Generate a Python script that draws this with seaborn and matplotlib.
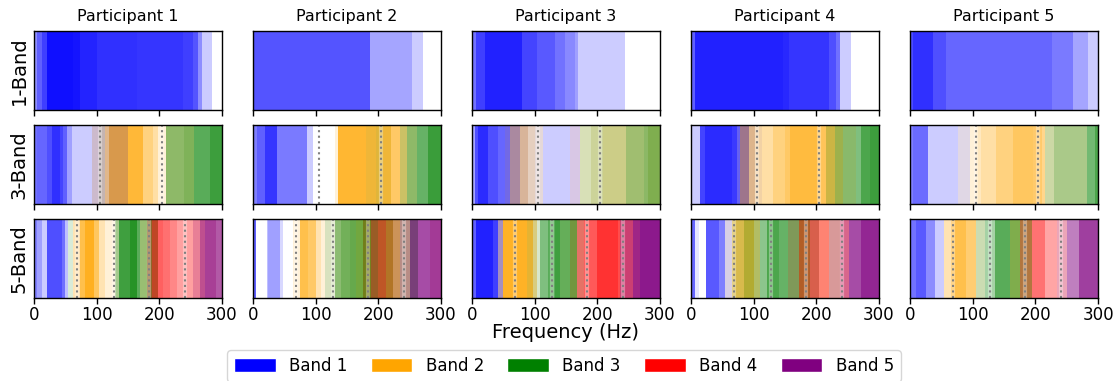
import numpy as np
import matplotlib
matplotlib.use("Agg")
import matplotlib.pyplot as plt
from matplotlib.colors import to_rgb
from matplotlib.patches import Patch
import seaborn as sns

# Band colours and labels
band_names = ["Band 1", "Band 2", "Band 3", "Band 4", "Band 5"]
band_colors = ["blue", "orange", "green", "red", "purple"]

participants = ["Participant 1", "Participant 2", "Participant 3", "Participant 4", "Participant 5"]
row_labels = ["1-Band", "3-Band", "5-Band"]

# Band boundaries (Hz) for the multi-band conditions
edges_3band = [106, 204]
edges_5band = [69, 127, 184, 241]

# Each segment: (start frequency in Hz, {band number: weight}); remainder is white
one_p1 = [(0, {1: .44}), (5, {1: .62}), (12, {1: .75}), (20, {1: .94}), (63, {1: .92}), (73, {1: .86}),
          (100, {1: .81}), (164, {1: .79}), (238, {1: .75}), (254, {1: .67}), (262, {1: .44}),
          (268, {1: .2}), (284, {})]
one_p2 = [(0, {1: .67}), (187, {1: .35}), (253, {1: .2}), (272, {})]
one_p3 = [(0, {1: .55}), (7, {1: .75}), (20, {1: .87}), (79, {1: .73}), (103, {1: .65}), (133, {1: .55}),
          (148, {1: .46}), (164, {1: .37}), (169, {1: .2}), (244, {})]
one_p4 = [(0, {1: .62}), (6, {1: .87}), (147, {1: .84}), (157, {1: .79}), (221, {1: .69}), (232, {1: .56}),
          (237, {1: .2}), (256, {})]
one_p5 = [(0, {1: .7}), (5, {1: .81}), (37, {1: .69}), (58, {1: .6}), (226, {1: .52}), (260, {1: .35}),
          (284, {1: .2})]

three_p1 = [(0, {1: .56}), (5, {1: .6}), (20, {1: .69}), (28, {1: .81}), (41, {1: .73}), (47, {1: .62}),
            (52, {1: .37}), (60, {1: .2}), (92, {1: .2, 2: .2}), (103, {1: .18, 2: .25, 3: .05}),
            (113, {1: .12, 2: .45}), (119, {1: .15, 2: .7}), (150, {2: .78}), (174, {2: .5}), (190, {2: .35}),
            (198, {2: .15}), (210, {2: .15, 3: .44}), (239, {2: .15, 3: .5}), (255, {3: .65}), (281, {3: .76})]
three_p2 = [(0, {1: .5}), (6, {1: .62}), (19, {1: .79}), (38, {1: .52}), (86, {1: .2}), (96, {}),
            (131, {2: .15}), (136, {2: .8}), (181, {2: .72, 3: .06}), (197, {2: .65, 3: .12}),
            (208, {2: .72, 3: .06}), (221, {2: .6}), (234, {2: .4, 3: .2}), (245, {2: .15, 3: .44}),
            (261, {3: .6}), (280, {3: .77})]
three_p3 = [(0, {1: .35}), (4, {1: .69}), (10, {1: .83}), (25, {1: .69}), (41, {1: .6}), (52, {1: .55, 2: .1}),
            (60, {1: .33, 2: .37}), (76, {1: .15, 2: .4}), (89, {1: .1, 2: .25}), (100, {1: .1, 2: .15}),
            (113, {1: .2}), (156, {1: .15, 2: .05, 4: .05}), (172, {2: .13, 3: .15}), (190, {2: .2, 3: .2}),
            (209, {2: .27, 3: .2}), (246, {2: .19, 3: .37}), (275, {2: .15, 3: .45}), (281, {2: .19, 3: .5})]
three_p4 = [(0, {1: .2}), (14, {1: .73}), (22, {1: .83}), (65, {1: .77}), (73, {1: .6, 2: .05}),
            (78, {1: .38, 2: .45}), (92, {1: .13, 2: .45}), (102, {1: .05, 2: .35}), (113, {2: .35}),
            (131, {2: .5}), (150, {2: .6}), (158, {2: .75}), (203, {2: .65}), (216, {2: .53, 3: .2}),
            (230, {2: .32, 3: .38}), (243, {2: .12, 3: .46}), (264, {3: .5}), (272, {3: .7}), (286, {3: .76})]
three_p5 = [(0, {1: .5}), (5, {1: .58}), (29, {1: .2}), (77, {1: .12, 2: .1}), (96, {2: .15}), (106, {2: .25}),
            (114, {2: .35}), (138, {2: .5}), (165, {2: .62}), (197, {2: .58}), (210, {2: .45}),
            (215, {2: .15, 3: .2}), (229, {2: .13, 3: .33}), (282, {3: .55}), (295, {3: .7})]

five_p1 = [(0, {1: .5}), (5, {1: .37}), (12, {1: .2}), (20, {1: .69}), (44, {1: .56}), (49, {1: .25}),
           (55, {3: .15}), (63, {2: .3}), (73, {2: .7}), (81, {2: .87}), (95, {2: .62}), (103, {2: .3}),
           (113, {2: .15}), (129, {2: .1, 3: .35}), (135, {3: .75}), (153, {3: .85}), (164, {3: .65}),
           (169, {2: .15, 3: .4}), (180, {1: .1, 2: .25, 3: .35, 4: .25}), (188, {3: .25, 4: .6}),
           (193, {4: .6, 3: .25}), (198, {4: .62}), (206, {4: .56}), (217, {4: .47}), (228, {4: .37}),
           (254, {4: .32, 5: .18}), (265, {4: .19, 5: .5}), (273, {4: .07, 5: .68}), (291, {4: .05, 5: .6})]
five_p2 = [(0, {1: .62}), (5, {}), (22, {1: .25}), (24, {1: .37}), (43, {1: .15}), (48, {}), (64, {2: .15}),
           (75, {2: .7}), (88, {2: .6}), (101, {2: .3}), (108, {2: .15}), (115, {2: .1, 3: .15}),
           (131, {2: .1, 3: .45}), (141, {2: .1, 3: .55}), (155, {2: .1, 3: .6}), (165, {2: .2, 3: .55}),
           (176, {1: .05, 2: .3, 3: .5, 4: .1}), (189, {1: .1, 2: .25, 3: .3, 4: .3}), (200, {2: .1, 3: .25, 4: .5}),
           (213, {2: .25, 3: .3, 4: .3}), (224, {2: .2, 3: .2, 4: .25}), (235, {3: .2, 4: .2, 5: .15}),
           (251, {1: .05, 3: .2, 4: .05, 5: .55}), (264, {5: .7}), (282, {5: .72, 4: .05})]
five_p3 = [(0, {1: .62}), (7, {1: .87}), (34, {1: .75}), (42, {1: .35, 2: .25}), (50, {2: .85}),
           (87, {2: .7, 3: .1}), (98, {2: .35, 3: .15}), (103, {3: .15, 2: .05}), (108, {3: .5}), (122, {3: .65}),
           (132, {3: .75}), (140, {3: .6, 2: .05}), (156, {3: .55, 2: .1, 4: .1}), (167, {4: .5, 3: .1}),
           (178, {4: .65}), (199, {4: .8}), (233, {4: .7}), (236, {4: .35, 5: .4}), (257, {5: .75, 4: .1}),
           (268, {5: .9})]
five_p4 = [(0, {1: .6}), (6, {1: .1}), (13, {}), (24, {1: .65}), (45, {1: .5}), (55, {1: .15, 2: .1}),
           (65, {2: .55, 3: .15}), (85, {2: .5, 3: .3}), (100, {2: .3, 3: .3}), (110, {3: .45}), (122, {3: .7}),
           (140, {3: .6}), (155, {3: .5, 4: .15}), (172, {3: .3, 4: .45, 2: .1}), (190, {4: .55, 3: .15}),
           (205, {4: .45, 2: .1}), (220, {4: .25, 3: .1, 5: .1}), (238, {4: .3, 5: .3}), (252, {5: .7}),
           (272, {5: .85})]
five_p5 = [(0, {1: .55}), (10, {1: .65}), (25, {1: .45}), (40, {1: .2}), (55, {2: .3}), (65, {2: .7}),
           (90, {2: .55}), (105, {2: .1, 3: .2}), (120, {3: .35}), (135, {3: .65}), (160, {3: .5, 2: .2}),
           (175, {3: .3, 4: .35, 2: .1}), (195, {4: .55}), (215, {4: .35}), (235, {4: .2, 5: .15}),
           (250, {5: .5}), (270, {5: .75})]

rows = [
    ([one_p1, one_p2, one_p3, one_p4, one_p5], []),
    ([three_p1, three_p2, three_p3, three_p4, three_p5], edges_3band),
    ([five_p1, five_p2, five_p3, five_p4, five_p5], edges_5band),
]

F_MAX = 300
rgb_bands = np.array([to_rgb(c) for c in band_colors])


def strip_image(segments, step=0.25):
    """Blend band colours with white according to each segment's weights."""
    freqs = np.arange(0, F_MAX, step) + step / 2
    starts = np.array([s for s, _ in segments])
    idx = np.searchsorted(starts, freqs, side="right") - 1
    cols = []
    for _, w in segments:
        total = sum(w.values())
        c = np.ones(3) * (1 - total)
        for b, v in w.items():
            c += v * rgb_bands[b - 1]
        cols.append(np.clip(c, 0, 1))
    cols = np.array(cols)
    return cols[idx][None, :, :]


sns.set_theme(style="ticks", rc={"axes.edgecolor": "black", "xtick.color": "black",
                                 "axes.linewidth": 1.0, "text.color": "black",
                                 "axes.labelcolor": "black"})
plt.rcParams["font.family"] = ["DejaVu Sans"]

fig, axes = plt.subplots(3, 5, figsize=(11.15, 3.81), dpi=100, sharex=True)
fig.subplots_adjust(left=34 / 1115, right=1098 / 1115, top=1 - 31 / 381, bottom=1 - 298 / 381,
                    wspace=0.165, hspace=0.18)

for r, (panels, bounds) in enumerate(rows):
    for c, segs in enumerate(panels):
        ax = axes[r, c]
        ax.imshow(strip_image(segs), aspect="auto", extent=(0, F_MAX, 0, 1),
                  interpolation="nearest", origin="lower")
        for b in bounds:
            ax.axvline(b, color="white", lw=3, alpha=0.35)
            ax.axvline(b, color="grey", lw=1.5, ls=":")
        ax.set_xlim(0, F_MAX)
        ax.set_ylim(0, 1)
        ax.set_yticks([])
        ax.set_xticks([0, 100, 200, 300])
        ax.tick_params(axis="x", labelsize=12, length=4, width=1, pad=2, labelcolor="black")
        for sp in ax.spines.values():
            sp.set_visible(True)
        if r == 0:
            ax.set_title(participants[c], fontsize=11.5, pad=7, color="black")
        if c == 0:
            ax.set_ylabel(row_labels[r], fontsize=14, labelpad=4)

fig.text(0.5 * (34 + 1098) / 1115, 1 - 333 / 381, "Frequency (Hz)", ha="center", va="center", fontsize=14)

handles = [Patch(facecolor=col, label=name) for col, name in zip(band_colors, band_names)]
fig.legend(handles=handles, loc="center", bbox_to_anchor=(564 / 1115, 1 - 366 / 381), ncol=5,
           fontsize=12, frameon=True, edgecolor="#cccccc", handlelength=2.5, handleheight=0.9,
           handletextpad=0.8, columnspacing=1.4, borderpad=0.4)

fig.savefig("out.png", dpi=100)
